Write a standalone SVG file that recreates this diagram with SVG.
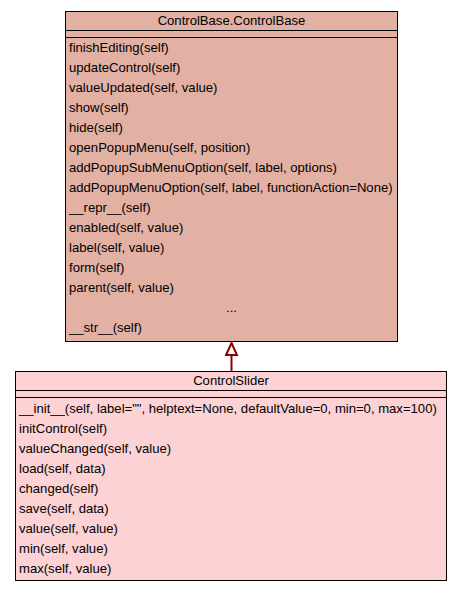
<svg xmlns="http://www.w3.org/2000/svg" width="461" height="592" viewBox="0 0 461 592">
  <defs>
    <style>
      text { font-family: "Liberation Sans", Arial, sans-serif; font-size: 13.1px; fill: #000; }
      .mid { text-anchor: middle; }
      .box { stroke: #000; stroke-width: 1; }
      .base { fill: #e2b1a4; }
      .sub { fill: #fdd2d4; }
      .sep { stroke: #000; stroke-width: 1; fill: none; }
      .edge { stroke: #8b0000; stroke-width: 2; fill: none; }
    </style>
    <marker id="inherit" viewBox="0 0 14 14" refX="13" refY="7" markerWidth="14" markerHeight="14" markerUnits="userSpaceOnUse" orient="auto">
      <path d="M1,1.5 L13,7 L1,12.5 Z" fill="#fff" stroke="#8b0000" stroke-width="2"/>
    </marker>
  </defs>
  <rect width="461" height="592" fill="#fff"/>

  <g id="ControlBase">
    <rect class="box base" x="65.5" y="11.5" width="332" height="330"/>
    <line class="sep" x1="65.5" y1="30.5" x2="397.5" y2="30.5"/>
    <line class="sep" x1="65.5" y1="37.5" x2="397.5" y2="37.5"/>
    <text class="mid" x="231.5" y="25">ControlBase.ControlBase</text>
    <text x="69" y="52">finishEditing(self)</text>
    <text x="69" y="72">updateControl(self)</text>
    <text x="69" y="92">valueUpdated(self, value)</text>
    <text x="69" y="112">show(self)</text>
    <text x="69" y="132">hide(self)</text>
    <text x="69" y="152">openPopupMenu(self, position)</text>
    <text x="69" y="172">addPopupSubMenuOption(self, label, options)</text>
    <text x="69" y="192">addPopupMenuOption(self, label, functionAction=None)</text>
    <text x="69" y="212">__repr__(self)</text>
    <text x="69" y="232">enabled(self, value)</text>
    <text x="69" y="252">label(self, value)</text>
    <text x="69" y="272">form(self)</text>
    <text x="69" y="292">parent(self, value)</text>
    <text class="mid" x="231.5" y="312">...</text>
    <text x="69" y="332">__str__(self)</text>
  </g>

  <g id="ControlSlider">
    <rect class="box sub" x="15.5" y="371.5" width="431" height="209"/>
    <line class="sep" x1="15.5" y1="390.5" x2="446.5" y2="390.5"/>
    <line class="sep" x1="15.5" y1="397.5" x2="446.5" y2="397.5"/>
    <text class="mid" x="231" y="385">ControlSlider</text>
    <text x="19" y="413">__init__(self, label="", helptext=None, defaultValue=0, min=0, max=100)</text>
    <text x="19" y="433">initControl(self)</text>
    <text x="19" y="453">valueChanged(self, value)</text>
    <text x="19" y="473">load(self, data)</text>
    <text x="19" y="493">changed(self)</text>
    <text x="19" y="513">save(self, data)</text>
    <text x="19" y="533">value(self, value)</text>
    <text x="19" y="553">min(self, value)</text>
    <text x="19" y="573">max(self, value)</text>
  </g>

  <g id="connectors">
    <path class="edge" d="M231.5,371 L231.5,343" marker-end="url(#inherit)"/>
  </g>
</svg>
